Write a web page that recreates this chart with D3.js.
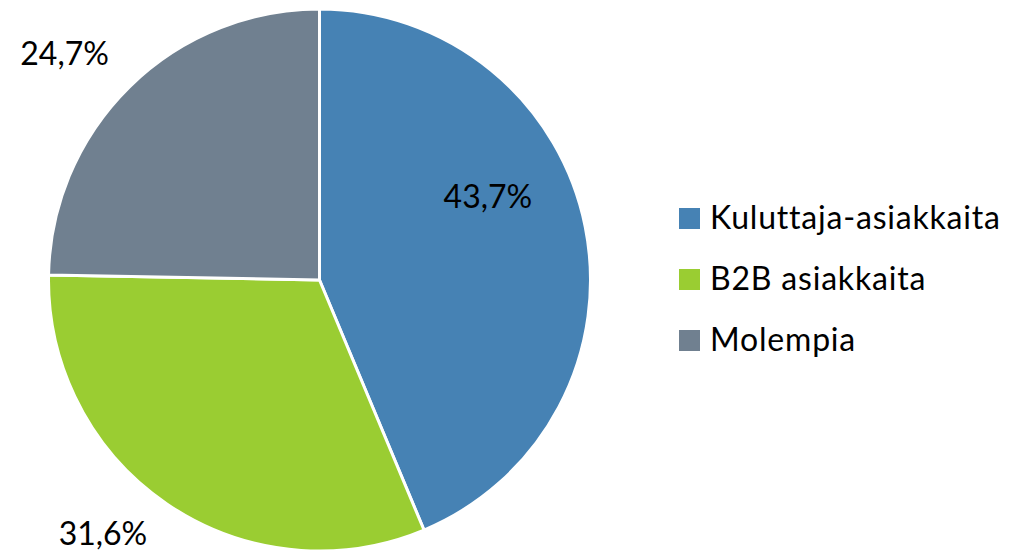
<!DOCTYPE html>
<html>
<head>
<meta charset="utf-8">
<script src="https://cdn.jsdelivr.net/npm/d3@7"></script>
<style>
html,body{margin:0;padding:0;background:#fff;}
svg{display:block;}
text{font-family:Lato,"Liberation Sans",sans-serif;fill:#000;}
</style>
</head>
<body>
<svg id="chart" width="1010" height="556"></svg>
<script>
const categories = ["Kuluttaja-asiakkaita", "B2B asiakkaita", "Molempia"];
const values = [43.7, 31.6, 24.7];
const labels = ["43,7%", "31,6%", "24,7%"];
const colors = ["#4682B4", "#9ACD32", "#708090"];

// label placement (angle in degrees clockwise from top, distance as fraction of radius)
const labelPos = [{a: 63.4, r: 0.695}, {a: 220.6, r: 1.228}, {a: 311.7, r: 1.26}];

const W = 1010, H = 556;
const cx = 319.5, cy = 280, R = 271;
const svg = d3.select("#chart");
const g = svg.append("g").attr("transform", `translate(${cx},${cy})`);

const pie = d3.pie().sort(null).value(d => d)(values);
const arc = d3.arc().innerRadius(0).outerRadius(R);

g.selectAll("path").data(pie).join("path")
  .attr("d", arc)
  .attr("fill", (d, i) => colors[i])
  .attr("stroke", "#fff")
  .attr("stroke-width", 3)
  .attr("stroke-linejoin", "round");

g.selectAll("text.lbl").data(pie).join("text")
  .attr("class", "lbl")
  .attr("x", (d, i) => Math.sin(labelPos[i].a * Math.PI / 180) * labelPos[i].r * R)
  .attr("y", (d, i) => -Math.cos(labelPos[i].a * Math.PI / 180) * labelPos[i].r * R)
  .attr("text-anchor", "middle")
  .attr("dominant-baseline", "central")
  .attr("font-size", 32)
  .text((d, i) => labels[i]);

const legend = svg.append("g").attr("transform", "translate(679,208)");
const rowY = d3.scalePoint().domain(categories).range([0, 122]);
const items = legend.selectAll("g").data(categories).join("g")
  .attr("transform", d => `translate(0,${rowY(d)})`);
items.append("rect").attr("width", 21).attr("height", 21)
  .attr("fill", (d, i) => colors[i]);
items.append("text").attr("x", 31).attr("y", 21)
  .attr("font-size", 32)
  .attr("letter-spacing", 0.8)
  .text(d => d);
</script>
</body>
</html>
